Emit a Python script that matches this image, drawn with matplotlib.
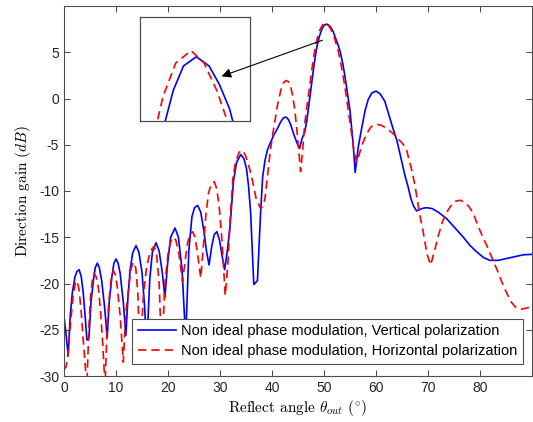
import matplotlib
matplotlib.use("Agg")
import matplotlib.pyplot as plt

plt.rcParams['axes.unicode_minus'] = False
plt.rcParams['mathtext.fontset'] = 'cm'
plt.rcParams['font.family'] = ['Liberation Sans', 'DejaVu Sans']

# ---------------- data ----------------
angle_v = [0, 0.4, 0.8, 1.2, 1.6, 2.1, 2.5, 2.9, 3.3, 3.7, 4.1, 4.4, 4.8, 5.2, 5.65, 6.0, 6.4, 6.8,
           7.25, 7.8, 8.3, 8.7, 9.2, 9.6, 10.0, 10.4, 10.8, 11.4, 11.9, 12.3, 12.7, 13.2, 13.85,
           14.4, 15.0, 15.5, 15.9, 16.5, 17.0, 17.7, 18.3, 18.9, 19.4, 19.9, 20.5, 21.35, 22.0,
           22.7, 23.4, 24.0, 24.6, 25.1, 25.7, 26.3, 26.9, 27.4, 27.9, 28.4, 28.9, 29.4, 29.9,
           30.4, 30.9, 31.4, 31.9, 32.6, 33.2, 34.0, 34.6, 35.1, 35.5, 35.9, 36.5, 37.2, 37.8,
           38.2, 38.65, 39.1, 39.6, 40.3, 41.0, 41.7, 42.2, 42.7, 43.2, 43.7, 44.2, 44.8, 45.3,
           45.8, 46.3, 46.7, 47.2, 47.6, 48.1, 48.6, 49.1, 49.6, 50.0, 50.5, 51.0, 51.4, 51.8,
           52.3, 52.7, 53.1, 53.6, 54.0, 54.5, 55.0, 55.6, 56.0, 56.6, 57.25, 57.9, 58.5, 59.2,
           60.0, 60.8, 61.7, 62.7, 63.3, 64.0, 64.9, 65.6, 66.2, 66.7, 67.2, 67.8, 68.8, 69.7,
           70.8, 72.0, 73.6, 75.2, 76.8, 78.1, 79.4, 80.7, 81.9, 83.5, 85.1, 86.7, 88.3, 90.0]
gain_v = [-23.6, -25.5, -27.8, -23.5, -21.0, -19.3, -18.7, -18.5, -19.2, -21.0, -23.8, -26.1, -25.9,
          -22.0, -19.7, -18.3, -17.8, -18.3, -19.7, -22.5, -25.8, -22.0, -19.3, -17.8, -17.35,
          -17.8, -18.9, -22.0, -25.6, -21.5, -18.6, -16.7, -15.9, -16.6, -18.8, -22.5, -27.0,
          -19.5, -16.6, -15.6, -16.5, -18.8, -21.5, -18.0, -15.0, -14.0, -15.0, -18.5, -26.0,
          -16.5, -12.8, -11.8, -11.55, -12.3, -14.3, -16.5, -18.0, -16.0, -14.7, -14.4, -15.3,
          -17.0, -18.5, -16.5, -14.0, -8.9, -6.9, -6.05, -6.5, -7.6, -9.5, -12.45, -20.1, -19.7,
          -12.45, -8.5, -6.7, -5.6, -4.9, -4.0, -3.3, -2.5, -2.1, -2.0, -2.3, -3.0, -3.9, -4.8,
          -5.4, -4.3, -3.6, -2.4, -0.2, 1.6, 3.7, 5.5, 6.7, 7.5, 7.9, 8.05, 7.9, 7.6, 7.2, 6.4,
          5.8, 5.1, 3.8, 2.5, 0.6, -1.3, -4.9, -8.0, -5.2, -3.2, -1.3, -0.1, 0.6, 0.8, 0.5, -0.3,
          -2.2, -3.3, -4.5, -6.7, -8.4, -9.6, -10.8, -11.6, -12.15, -11.9, -11.8, -11.9, -12.3,
          -13.0, -14.0, -15.0, -15.9, -16.6, -17.2, -17.5, -17.5, -17.3, -17.1, -16.9, -16.85]

angle_h = [0, 0.4, 0.8, 1.15, 1.5, 1.8, 2.3, 2.6, 2.9, 3.3, 3.7, 4.1, 4.4, 4.8, 5.1, 5.45, 5.8, 6.2,
           6.6, 7.0, 7.4, 7.9, 8.3, 8.7, 9.1, 9.5, 9.9, 10.25, 10.8, 11.4, 11.9, 12.4, 12.85, 13.3,
           13.8, 14.2, 14.6, 15.3, 15.9, 16.6, 17.3, 17.8, 18.3, 18.8, 19.4, 20.0, 20.5, 21.0,
           21.5, 22.1, 22.8, 23.3, 23.8, 24.3, 24.75, 25.2, 25.7, 26.3, 26.8, 27.3, 27.8, 28.3,
           28.9, 29.4, 29.9, 30.4, 31.0, 31.5, 32.0, 32.5, 33.0, 33.7, 34.4, 35.0, 35.8, 36.4,
           36.9, 37.8, 38.3, 38.65, 39.1, 39.6, 40.1, 40.6, 41.1, 41.7, 42.2, 42.7, 43.2, 43.6,
           44.0, 44.4, 44.8, 45.2, 45.5, 45.9, 46.3, 46.8, 47.3, 47.8, 48.3, 48.7, 49.2, 49.7,
           50.3, 50.8, 51.3, 51.8, 52.3, 52.8, 53.3, 53.8, 54.3, 54.8, 55.3, 55.8, 56.3, 56.8,
           57.4, 58.2, 59.0, 59.6, 60.25, 61.0, 61.7, 62.4, 63.3, 64.5, 65.3, 65.9, 66.9, 67.5,
           68.3, 69.1, 69.8, 70.5, 71.1, 72.0, 72.8, 73.6, 74.4, 75.3, 76.2, 77.0, 77.9, 78.7,
           79.5, 80.4, 81.3, 82.3, 83.2, 84.1, 85.1, 86.0, 86.9, 87.7, 88.6, 90.0]
gain_h = [-29.3, -29.0, -27.5, -25.0, -22.8, -21.1, -19.7, -19.9, -20.7, -23.0, -26.1, -29.0, -31.0,
          -24.5, -21.5, -19.6, -18.9, -19.3, -20.4, -22.8, -26.1, -31.0, -24.5, -21.5, -19.4,
          -18.6, -19.1, -20.4, -23.5, -28.5, -23.0, -20.7, -18.5, -17.7, -18.3, -21.0, -28.0,
          -21.0, -18.2, -16.5, -16.0, -16.8, -20.0, -28.0, -20.0, -16.8, -15.5, -15.0, -15.3,
          -16.8, -19.8, -17.5, -15.5, -14.6, -14.4, -15.0, -16.8, -19.4, -16.0, -12.5, -10.2,
          -9.3, -9.0, -9.8, -12.0, -15.5, -21.3, -18.0, -12.5, -8.5, -6.8, -5.8, -5.6, -6.3,
          -7.8, -9.3, -10.7, -11.9, -11.6, -10.8, -8.5, -6.0, -4.0, -2.3, -0.6, 0.9, 1.7, 1.95,
          1.8, 1.3, 0.2, -1.3, -3.5, -6.0, -7.9, -5.5, -2.7, -0.5, 1.6, 3.7, 5.5, 6.5, 7.4,
          7.95, 8.15, 7.95, 7.5, 6.9, 6.0, 5.0, 3.6, 2.0, 0.2, -1.8, -3.8, -5.8, -6.9, -6.0,
          -4.9, -3.8, -3.1, -2.85, -2.8, -2.9, -3.1, -3.4, -3.8, -4.5, -5.0, -5.6, -7.8, -9.4,
          -12.2, -14.5, -16.8, -18.0, -16.8, -14.8, -13.3, -12.3, -11.6, -11.1, -11.0, -11.2,
          -11.7, -12.4, -13.6, -14.8, -15.9, -17.2, -18.4, -19.7, -21.0, -22.0, -22.6, -22.8,
          -22.7, -22.5]

label_v = 'Non ideal phase modulation, Vertical polarization'
label_h = 'Non ideal phase modulation, Horizontal polarization'
xticks = [0, 10, 20, 30, 40, 50, 60, 70, 80]
yticks = [-30, -25, -20, -15, -10, -5, 0, 5]

# ---------------- figure ----------------
fig = plt.figure(figsize=(5.33, 4.22), dpi=100)
ax = fig.add_axes([64/533, 46/422, 468/533, 370/422])

spine_col = '#4d4d4d'
ax.plot(angle_v, gain_v, color='#0000ff', lw=1.2, label=label_v)
ax.plot(angle_h, gain_h, color='#ff0000', lw=1.2, ls=(0, (5, 3)), label=label_h)
ax.set_xlim(0, 90)
ax.set_ylim(-30, 10)
ax.set_xticks(xticks)
ax.set_yticks(yticks)
ax.tick_params(direction='in', length=4, width=0.6, top=True, right=True,
               labelsize=10, colors='#262626')
for s in ax.spines.values():
    s.set_color(spine_col)
    s.set_linewidth(0.8)

ax.set_xlabel(r'Reflect angle $\theta_{out}$ ($^{\circ}$)', fontfamily='cmr10', fontsize=11,
              labelpad=2)
ax.set_ylabel(r'Direction gain ($dB$)', fontfamily='cmr10', fontsize=11, labelpad=4)

leg = ax.legend(loc='lower right', bbox_to_anchor=(0.981, 0.032), borderaxespad=0,
                fontsize=10.5, fancybox=False, framealpha=1, edgecolor=spine_col,
                handlelength=2.6, handletextpad=0.35, borderpad=0.4, labelspacing=0.4)
leg.get_frame().set_linewidth(0.8)

# inset
ins = fig.add_axes([140/533, (422-121)/422, 110/533, 104/422])
ins.plot(angle_v, gain_v, color='#0000ff', lw=1.2)
ins.plot(angle_h, gain_h, color='#ff0000', lw=1.2, ls=(0, (5, 3)))
ins.set_xlim(48.3, 52.6)
ins.set_ylim(7.0, 8.7)
ins.set_xticks([])
ins.set_yticks([])
for s in ins.spines.values():
    s.set_color(spine_col)
    s.set_linewidth(0.9)

ins.annotate('', xy=(30.3, 2.4), xycoords=ax.transData,
             xytext=(49.7, 6.3), textcoords=ax.transData, annotation_clip=False,
             arrowprops=dict(arrowstyle='-|>', color='k', lw=0.8, mutation_scale=14,
                             shrinkA=0, shrinkB=0))

fig.savefig('out.png', dpi=100)
